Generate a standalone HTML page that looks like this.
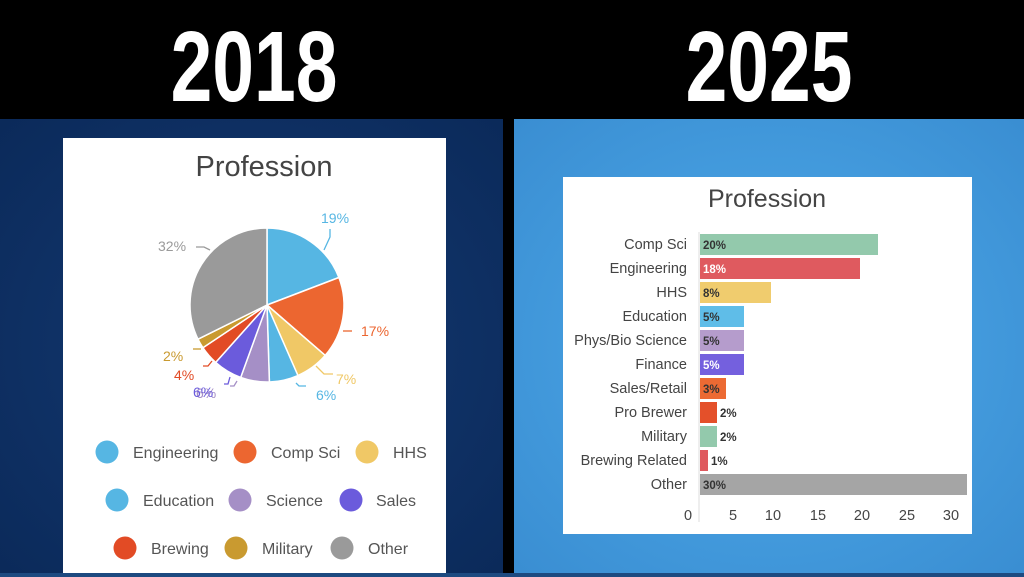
<!DOCTYPE html>
<html><head><meta charset="utf-8"><style>
html,body{margin:0;padding:0;background:#000;}
svg{display:block;}
text{font-family:"Liberation Sans",sans-serif;}
</style></head><body>
<svg width="1024" height="577" viewBox="0 0 1024 577" xmlns="http://www.w3.org/2000/svg">
<defs>
<radialGradient id="lg" cx="0.5" cy="0.5" r="0.7"><stop offset="0" stop-color="#143a73"/><stop offset="1" stop-color="#0b2a5a"/></radialGradient>
<radialGradient id="rg" cx="0.5" cy="0.5" r="0.7"><stop offset="0" stop-color="#4eaaea"/><stop offset="1" stop-color="#3a8ed2"/></radialGradient>
</defs>
<rect width="1024" height="577" fill="#000"/>
<rect x="0" y="119" width="503" height="454" fill="url(#lg)"/>
<rect x="514" y="119" width="510" height="454" fill="url(#rg)"/>
<rect x="0" y="573" width="1024" height="4" fill="#1d4a80"/>
<text x="254" y="101" font-size="100" font-weight="bold" fill="#fff" text-anchor="middle" transform="translate(254 101) scale(0.75 1.0) translate(-254 -101)">2018</text>
<text x="769" y="101" font-size="100" font-weight="bold" fill="#fff" text-anchor="middle" transform="translate(769 101) scale(0.75 1.0) translate(-769 -101)">2025</text>

<!-- left card -->
<rect x="63" y="138" width="383" height="435" fill="#fff"/>
<text x="264" y="176" font-size="29" fill="#444" text-anchor="middle">Profession</text>
<g stroke="#fff" stroke-width="1.5" stroke-linejoin="round">
<path d="M267 305 L267 228 A77 77 0 0 1 338.9 277.5Z" fill="#56b6e3"/>
<path d="M267 305 L338.9 277.5 A77 77 0 0 1 325.2 355.4Z" fill="#ec6630"/>
<path d="M267 305 L325.2 355.4 A77 77 0 0 1 297.9 375.5Z" fill="#f0c866"/>
<path d="M267 305 L297.9 375.5 A77 77 0 0 1 269.4 382Z" fill="#56b6e3"/>
<path d="M267 305 L269.4 382 A77 77 0 0 1 240.7 377.4Z" fill="#a58fc6"/>
<path d="M267 305 L240.7 377.4 A77 77 0 0 1 215.7 362.4Z" fill="#6b5bdc"/>
<path d="M267 305 L215.7 362.4 A77 77 0 0 1 202.9 347.7Z" fill="#e24b25"/>
<path d="M267 305 L202.9 347.7 A77 77 0 0 1 198 339.2Z" fill="#c99a30"/>
<path d="M267 305 L198 339.2 A77 77 0 0 1 267 228Z" fill="#9a9a9a"/>
</g>
<g fill="none" stroke-width="1.3">
<path d="M324 250 L330 237 L330 229" stroke="#56b6e3"/>
<path d="M343 331 L352 331" stroke="#ec6630"/>
<path d="M316 366 L324 374 L333 374" stroke="#f0c866"/>
<path d="M296 383 L299 386 L306 386" stroke="#56b6e3"/>
<path d="M237 381 L234 386 L230 386" stroke="#a58fc6"/>
<path d="M230 377 L228 384 L224 384" stroke="#6b5bdc"/>
<path d="M212 361 L208 366 L203 366" stroke="#e24b25"/>
<path d="M201 349 L193 349" stroke="#c99a30"/>
<path d="M210 250 L204 247 L196 247" stroke="#9a9a9a"/>
</g>
<g font-size="14">
<text x="321" y="223" fill="#56b6e3">19%</text>
<text x="361" y="336" fill="#ec6630">17%</text>
<text x="336" y="384" fill="#f0c866">7%</text>
<text x="316" y="400" fill="#56b6e3">6%</text>
<text x="196" y="398" fill="#a58fc6">6%</text>
<text x="193" y="397" fill="#6b5bdc">6%</text>
<text x="174" y="380" fill="#e24b25">4%</text>
<text x="163" y="361" fill="#c99a30">2%</text>
<text x="158" y="251" fill="#9a9a9a">32%</text>
</g>
<g font-size="16" fill="#555">
<circle cx="107" cy="452" r="11.5" fill="#56b6e3"/><text x="133" y="458">Engineering</text>
<circle cx="245" cy="452" r="11.5" fill="#ec6630"/><text x="271" y="458">Comp Sci</text>
<circle cx="367" cy="452" r="11.5" fill="#f0c866"/><text x="393" y="458">HHS</text>
<circle cx="117" cy="500" r="11.5" fill="#56b6e3"/><text x="143" y="506">Education</text>
<circle cx="240" cy="500" r="11.5" fill="#a58fc6"/><text x="266" y="506">Science</text>
<circle cx="351" cy="500" r="11.5" fill="#6b5bdc"/><text x="376" y="506">Sales</text>
<circle cx="125" cy="548" r="11.5" fill="#e24b25"/><text x="151" y="554">Brewing</text>
<circle cx="236" cy="548" r="11.5" fill="#c99a30"/><text x="262" y="554">Military</text>
<circle cx="342" cy="548" r="11.5" fill="#9a9a9a"/><text x="368" y="554">Other</text>
</g>

<!-- right card -->
<rect x="563" y="177" width="409" height="357" fill="#fff"/>
<text x="767" y="207" font-size="25" fill="#444" text-anchor="middle">Profession</text>
<line x1="699" y1="232" x2="699" y2="522" stroke="#ddd" stroke-width="1"/>
<g font-size="14.5" fill="#444" text-anchor="end">
<text x="687" y="249">Comp Sci</text>
<text x="687" y="273">Engineering</text>
<text x="687" y="297">HHS</text>
<text x="687" y="321">Education</text>
<text x="687" y="345">Phys/Bio Science</text>
<text x="687" y="369">Finance</text>
<text x="687" y="393">Sales/Retail</text>
<text x="687" y="417">Pro Brewer</text>
<text x="687" y="441">Military</text>
<text x="687" y="465">Brewing Related</text>
<text x="687" y="489">Other</text>
</g>
<g>
<rect x="700" y="234" width="178" height="21" fill="#93c9ac"/>
<rect x="700" y="258" width="160" height="21" fill="#df5a5f"/>
<rect x="700" y="282" width="71" height="21" fill="#f0cc6e"/>
<rect x="700" y="306" width="44" height="21" fill="#5fbde8"/>
<rect x="700" y="330" width="44" height="21" fill="#b59ccc"/>
<rect x="700" y="354" width="44" height="21" fill="#7460de"/>
<rect x="700" y="378" width="26" height="21" fill="#ec6a33"/>
<rect x="700" y="402" width="17" height="21" fill="#e4502a"/>
<rect x="700" y="426" width="17" height="21" fill="#93c9ac"/>
<rect x="700" y="450" width="8" height="21" fill="#df5a5f"/>
<rect x="700" y="474" width="267" height="21" fill="#a5a5a5"/>
</g>
<g font-size="11.5" font-weight="bold">
<text x="703" y="249" fill="#333">20%</text>
<text x="703" y="273" fill="#fff">18%</text>
<text x="703" y="297" fill="#333">8%</text>
<text x="703" y="321" fill="#333">5%</text>
<text x="703" y="345" fill="#333">5%</text>
<text x="703" y="369" fill="#fff">5%</text>
<text x="703" y="393" fill="#333">3%</text>
<text x="720" y="417" fill="#333">2%</text>
<text x="720" y="441" fill="#333">2%</text>
<text x="711" y="465" fill="#333">1%</text>
<text x="703" y="489" fill="#333">30%</text>
</g>
<g font-size="14.5" fill="#444" text-anchor="middle">
<text x="688" y="520">0</text>
<text x="733" y="520">5</text>
<text x="773" y="520">10</text>
<text x="818" y="520">15</text>
<text x="862" y="520">20</text>
<text x="907" y="520">25</text>
<text x="951" y="520">30</text>
</g>
</svg>
</body></html>
